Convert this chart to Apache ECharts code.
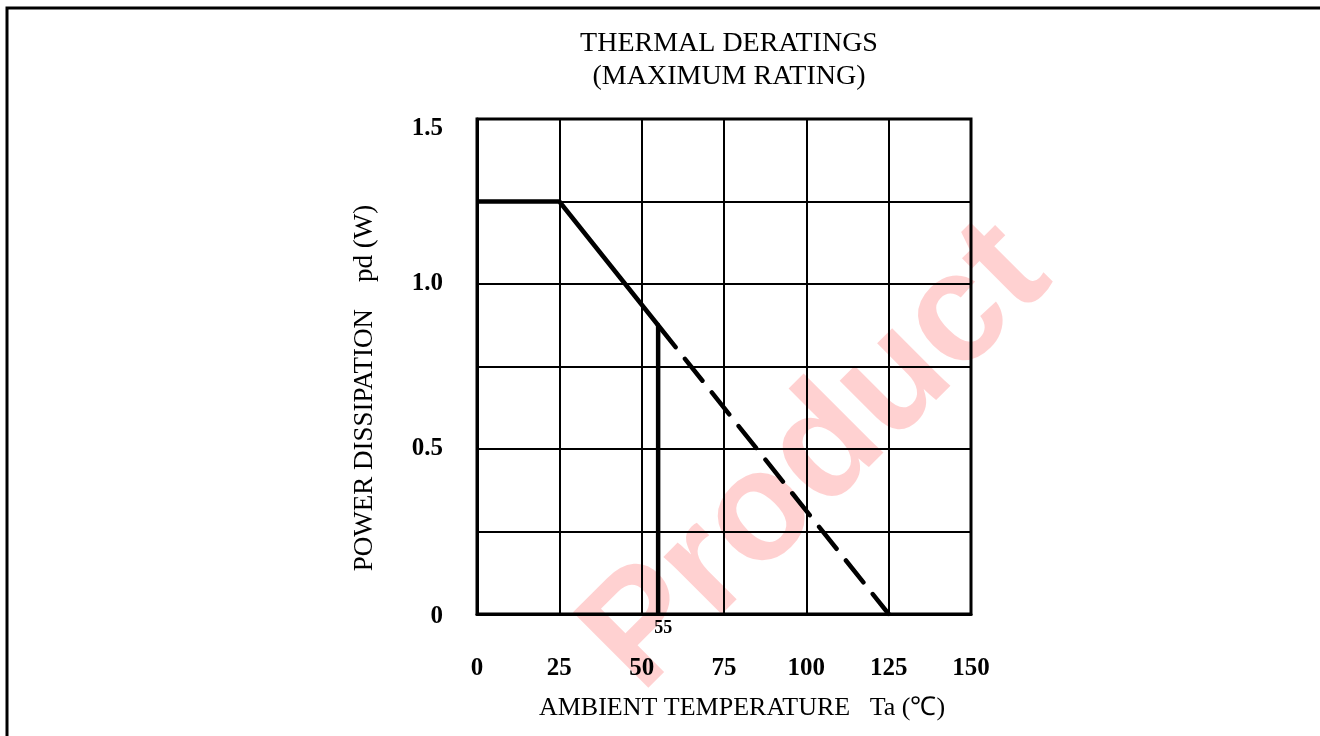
<!DOCTYPE html>
<html>
<head>
<meta charset="utf-8">
<script src="https://cdn.jsdelivr.net/npm/echarts@6/dist/echarts.min.js"></script>
<style>
html,body{margin:0;padding:0;background:#fff;}
#c{width:1320px;height:736px;}
</style>
</head>
<body>
<div id="c"></div>
<script>
// ---- data ----
const tempSolid = [0, 25, 55];
const powerSolid = [1.25, 1.25, 0.875];
const tempDashed = [55, 125];
const powerDashed = [0.875, 0];
const markerTemp = 55;
const markerPower = [0, 0.875];
const xTickLabels = ['0', '25', '50', '75', '100', '125', '150'];
const yTickLabels = {'0': '0', '0.5': '0.5', '1': '1.0', '1.5': '1.5'};

const FONT = '"Liberation Serif", "Times New Roman", serif';

const chart = echarts.init(document.getElementById('c'), null, {renderer: 'canvas'});

chart.setOption({
  backgroundColor: '#fff',
  animation: false,
  title: {
    text: 'THERMAL DERATINGS\n(MAXIMUM RATING)',
    left: 724, top: 22, textAlign: 'center',
    textStyle: {fontFamily: FONT, fontSize: 28, fontWeight: 'normal', color: '#000', lineHeight: 33}
  },
  grid: {
    left: 477, top: 119, width: 494, height: 495,
    show: true, borderColor: '#000', borderWidth: 3, backgroundColor: 'transparent'
  },
  xAxis: {
    type: 'value', min: 0, max: 150, interval: 25,
    axisLine: {show: true, onZero: false, lineStyle: {color: '#000', width: 3}},
    axisTick: {show: false},
    splitLine: {show: true, lineStyle: {color: '#000', width: 2}},
    axisLabel: {
      margin: 42,
      fontFamily: FONT, fontSize: 25, fontWeight: 'bold', color: '#000',
      formatter: v => xTickLabels[Math.round(v / 25)]
    }
  },
  yAxis: {
    type: 'value', min: 0, max: 1.5, interval: 0.25,
    axisLine: {show: true, onZero: false, lineStyle: {color: '#000', width: 3}},
    axisTick: {show: false},
    splitLine: {show: true, lineStyle: {color: '#000', width: 2}},
    axisLabel: {
      margin: 34,
      fontFamily: FONT, fontSize: 25, fontWeight: 'bold', color: '#000',
      formatter: v => {
        const key = String(Math.round(v * 100) / 100);
        const t = yTickLabels[key];
        if (t === undefined) return '';
        if (key === '1.5') return '{top|' + t + '}';
        if (key === '0') return '{bot|' + t + '}';
        return t;
      },
      rich: {
        top: {fontFamily: FONT, fontSize: 25, fontWeight: 'bold', color: '#000', padding: [20, 0, 0, 0]},
        bot: {fontFamily: FONT, fontSize: 25, fontWeight: 'bold', color: '#000', padding: [6, 0, 0, 0]}
      }
    }
  },
  series: [
    {
      type: 'line', name: 'rated',
      data: tempSolid.map((t, i) => [t, powerSolid[i]]),
      showSymbol: false, symbol: 'none',
      lineStyle: {color: '#000', width: 4.5},
      z: 5
    },
    {
      type: 'line', name: 'extrapolated',
      data: tempDashed.map((t, i) => [t, powerDashed[i]]),
      showSymbol: false, symbol: 'none',
      lineStyle: {color: '#000', width: 4.5, type: [28, 15], dashOffset: 0, cap: 'round'},
      z: 5
    },
    {
      type: 'line', name: 'marker',
      data: markerPower.map(p => [markerTemp, p]),
      symbol: 'none',
      lineStyle: {color: '#000', width: 4.5},
      z: 5,
      markPoint: {
        symbol: 'circle', symbolSize: 0,
        data: [{coord: [markerTemp, 0], value: String(markerTemp)}],
        label: {
          show: true, position: 'bottom', distance: 5, offset: [5, 0],
          fontFamily: FONT, fontSize: 18, fontWeight: 'bold', color: '#000',
          formatter: p => p.value
        }
      }
    }
  ],
  graphic: [
    {
      type: 'text', rotation: Math.PI / 4, z: -10,
      left: 556, top: 196,
      style: {
        text: 'Product', fill: 'rgba(255,0,0,0.18)',
        font: 'bold 155px "Liberation Sans", Arial, sans-serif'
      }
    },
    {
      type: 'text', x: 365, y: 388, rotation: Math.PI / 2,
      style: {
        text: 'POWER DISSIPATION\u00a0\u00a0\u00a0\u00a0pd (W)',
        font: '27px "Liberation Serif", "Times New Roman", serif',
        fill: '#000', align: 'center', verticalAlign: 'middle'
      }
    },
    {
      type: 'text', x: 742, y: 708,
      style: {
        text: 'AMBIENT TEMPERATURE\u00a0\u00a0\u00a0Ta (\u2103)',
        font: '26px "Liberation Serif", "Times New Roman", serif',
        fill: '#000', align: 'center', verticalAlign: 'middle'
      }
    },
    {
      type: 'polyline', z: 10,
      shape: {points: [[7, 736], [7, 8], [1320, 8]]},
      style: {stroke: '#000', lineWidth: 3, fill: null}
    }
  ]
});
</script>
</body>
</html>
